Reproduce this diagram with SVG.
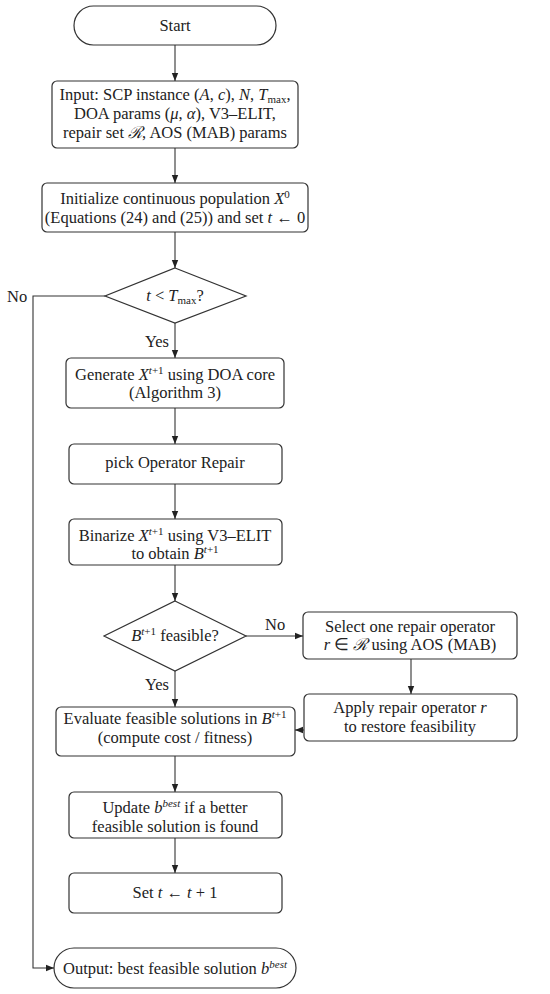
<svg xmlns="http://www.w3.org/2000/svg" width="550" height="994" viewBox="0 0 550 994">
<defs>
<marker id="ah" viewBox="0 0 10 10" refX="10" refY="5" markerWidth="8" markerHeight="8" markerUnits="userSpaceOnUse" orient="auto">
<path d="M0,1 L10,5 L0,9 z" fill="#222"/>
</marker>
<style>
.box{fill:#fff;stroke:#333;stroke-width:1.2}
.t{font-family:"Liberation Serif","Times New Roman",serif;font-size:16.5px;fill:#222;text-anchor:middle}
.l{font-family:"Liberation Serif","Times New Roman",serif;font-size:16.5px;fill:#222}
.i{font-style:italic}
.c{fill:none;stroke:#333;stroke-width:1.1}
</style>
</defs>
<rect width="550" height="994" fill="#fff"/>
<g id="start"><rect class="box" x="74" y="6" width="202" height="39" rx="19.5"/><text class="t" x="175" y="31">Start</text></g>
<g id="input"><rect class="box" x="52" y="81" width="246" height="67" rx="5"/>
<text class="t" x="175" y="100">Input: SCP instance (<tspan class="i">A</tspan>, <tspan class="i">c</tspan>), <tspan class="i">N</tspan>, <tspan class="i">T</tspan><tspan font-size="11" dy="3">max</tspan><tspan dy="-3">,</tspan></text>
<text class="t" x="175" y="119">DOA params (<tspan class="i">μ</tspan>, <tspan class="i">α</tspan>), V3–ELIT,</text>
<text class="t" x="175" y="138">repair set <tspan class="i">ℛ</tspan>, AOS (MAB) params</text></g>
<g id="init"><rect class="box" x="42" y="183" width="266" height="49" rx="5"/>
<text class="t" x="175" y="204">Initialize continuous population <tspan class="i">X</tspan><tspan font-size="11" dy="-6">0</tspan></text>
<text class="t" x="175" y="223">(Equations (24) and (25)) and set <tspan class="i">t</tspan> ← 0</text></g>
<g id="cond1"><polygon class="box" points="175,268 246,296 175,323 105,296"/>
<text class="t" x="175" y="301"><tspan class="i">t</tspan> &lt; <tspan class="i">T</tspan><tspan font-size="11" dy="3">max</tspan><tspan dy="-3">?</tspan></text></g>
<g id="gen"><rect class="box" x="66" y="358" width="218" height="50" rx="5"/>
<text class="t" x="175" y="380">Generate <tspan class="i">X</tspan><tspan font-size="11" dy="-6"><tspan class="i">t</tspan>+1</tspan><tspan dy="6"> using DOA core</tspan></text>
<text class="t" x="175" y="398">(Algorithm 3)</text></g>
<g id="pick"><rect class="box" x="69" y="444" width="213" height="40" rx="5"/>
<text class="t" x="175" y="468">pick Operator Repair</text></g>
<g id="bin"><rect class="box" x="69" y="519" width="213" height="46" rx="5"/>
<text class="t" x="175" y="541">Binarize <tspan class="i">X</tspan><tspan font-size="11" dy="-6"><tspan class="i">t</tspan>+1</tspan><tspan dy="6"> using V3–ELIT</tspan></text>
<text class="t" x="175" y="559">to obtain <tspan class="i">B</tspan><tspan font-size="11" dy="-6"><tspan class="i">t</tspan>+1</tspan></text></g>
<g id="cond2"><polygon class="box" points="175,601 246,636 175,671 104,636"/>
<text class="t" x="175" y="641"><tspan class="i">B</tspan><tspan font-size="11" dy="-6"><tspan class="i">t</tspan>+1</tspan><tspan dy="6"> feasible?</tspan></text></g>
<g id="select"><rect class="box" x="303" y="612" width="214" height="47" rx="5"/>
<text class="t" x="410" y="632">Select one repair operator</text>
<text class="t" x="410" y="650"><tspan class="i">r</tspan> ∈ <tspan class="i">ℛ</tspan> using AOS (MAB)</text></g>
<g id="apply"><rect class="box" x="304" y="694" width="213" height="47" rx="5"/>
<text class="t" x="410" y="713">Apply repair operator <tspan class="i">r</tspan></text>
<text class="t" x="410" y="732">to restore feasibility</text></g>
<g id="eval"><rect class="box" x="56" y="707" width="239" height="49" rx="5"/>
<text class="t" x="175" y="724">Evaluate feasible solutions in <tspan class="i">B</tspan><tspan font-size="11" dy="-6"><tspan class="i">t</tspan>+1</tspan></text>
<text class="t" x="175" y="743">(compute cost / fitness)</text></g>
<g id="update"><rect class="box" x="69" y="792" width="213" height="46" rx="5"/>
<text class="t" x="175" y="813">Update <tspan class="i">b</tspan><tspan font-size="11" dy="-6" class="i">best</tspan><tspan dy="6"> if a better</tspan></text>
<text class="t" x="175" y="832">feasible solution is found</text></g>
<g id="set"><rect class="box" x="69" y="873" width="213" height="40" rx="5"/>
<text class="t" x="175" y="898">Set <tspan class="i">t</tspan> ← <tspan class="i">t</tspan> + 1</text></g>
<g id="output"><rect class="box" x="54" y="948" width="242" height="40" rx="20"/>
<text class="t" x="175" y="974">Output: best feasible solution <tspan class="i">b</tspan><tspan font-size="11" dy="-6" class="i">best</tspan></text></g>
<g id="connectors">
<line class="c" x1="175" y1="45" x2="175" y2="81" marker-end="url(#ah)"/>
<line class="c" x1="175" y1="148" x2="175" y2="183" marker-end="url(#ah)"/>
<line class="c" x1="175" y1="232" x2="175" y2="268" marker-end="url(#ah)"/>
<line class="c" x1="175" y1="323" x2="175" y2="358" marker-end="url(#ah)"/>
<line class="c" x1="175" y1="408" x2="175" y2="444" marker-end="url(#ah)"/>
<line class="c" x1="175" y1="484" x2="175" y2="519" marker-end="url(#ah)"/>
<line class="c" x1="175" y1="565" x2="175" y2="601" marker-end="url(#ah)"/>
<line class="c" x1="175" y1="671" x2="175" y2="707" marker-end="url(#ah)"/>
<line class="c" x1="246" y1="636" x2="303" y2="636" marker-end="url(#ah)"/>
<line class="c" x1="411" y1="659" x2="411" y2="694" marker-end="url(#ah)"/>
<line class="c" x1="304" y1="730" x2="295" y2="730" marker-end="url(#ah)"/>
<line class="c" x1="175" y1="756" x2="175" y2="792" marker-end="url(#ah)"/>
<line class="c" x1="175" y1="838" x2="175" y2="873" marker-end="url(#ah)"/>
<polyline class="c" points="105,296 33,296 33,968 54,968" marker-end="url(#ah)"/>
<text class="l" x="7" y="302">No</text>
<text class="l" x="169" y="347" text-anchor="end">Yes</text>
<text class="l" x="265" y="630">No</text>
<text class="l" x="169" y="690" text-anchor="end">Yes</text>
</g>
</svg>
